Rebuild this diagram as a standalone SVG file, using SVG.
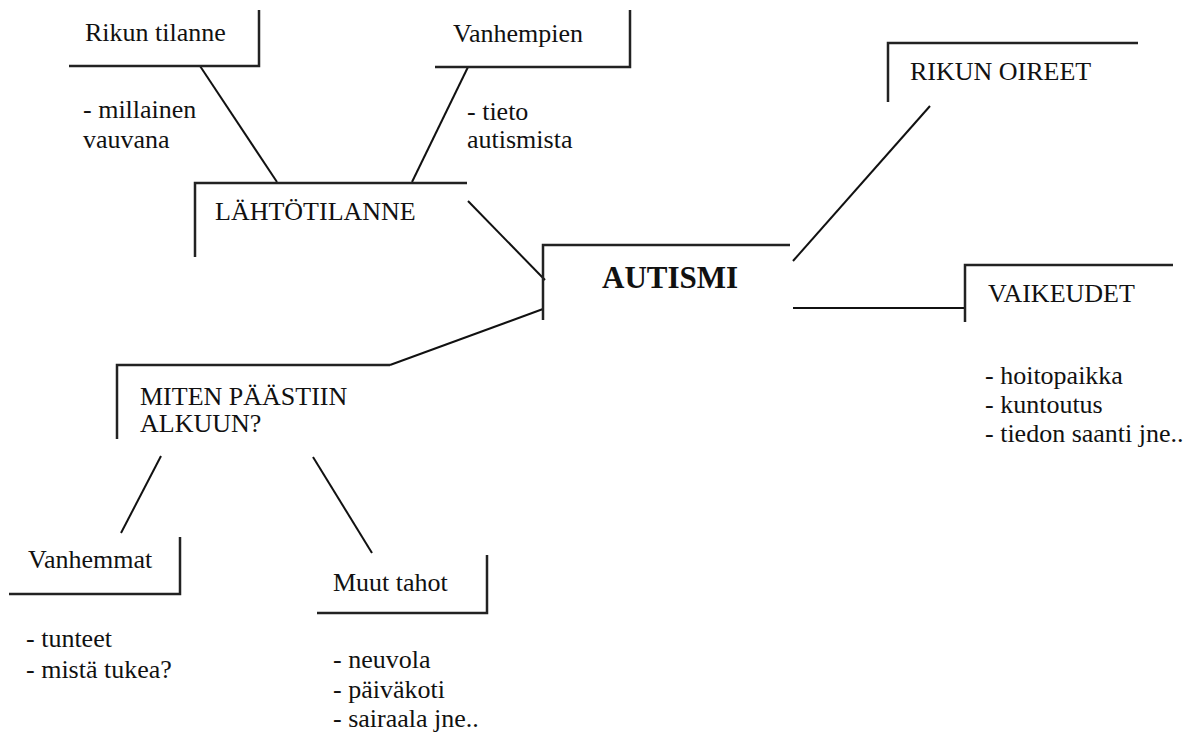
<svg xmlns="http://www.w3.org/2000/svg" width="1188" height="735" viewBox="0 0 1188 735">
  <style>
    text { font-family: "Liberation Serif", "DejaVu Serif", "Noto Serif", "Times New Roman", Times, serif; font-size: 26px; fill: #111; }
    .title { font-size: 31px; font-weight: bold; }
    .frame { fill: none; stroke: #222; stroke-width: 2.5; }
    .link { fill: none; stroke: #111; stroke-width: 2; }
  </style>
  <rect width="1188" height="735" fill="#fff"/>

  <!-- connectors -->
  <g id="connectors">
    <line class="link" x1="200" y1="66" x2="277" y2="182"/>
    <line class="link" x1="468" y1="67" x2="412" y2="182"/>
    <line class="link" x1="468" y1="201" x2="545" y2="280"/>
    <line class="link" x1="793" y1="261" x2="930" y2="106"/>
    <line class="link" x1="793" y1="308" x2="965" y2="308"/>
    <line class="link" x1="543" y1="309" x2="390" y2="365"/>
    <line class="link" x1="161" y1="456" x2="121" y2="533"/>
    <line class="link" x1="313" y1="457" x2="372" y2="553"/>
  </g>

  <g font-family="Liberation Serif, DejaVu Serif, serif">
    <!-- central topic -->
    <g id="autismi">
      <polyline class="frame" points="543,320 543,245 790,245"/>
      <text class="title" x="602" y="288">AUTISMI</text>
    </g>

    <g id="lahtotilanne">
      <polyline class="frame" points="195,257 195,183 467,183"/>
      <text x="215" y="220">LÄHTÖTILANNE</text>
    </g>

    <g id="rikun-tilanne">
      <polyline class="frame" points="69,66 259,66 259,10"/>
      <text x="85" y="41">Rikun tilanne</text>
      <text x="83" y="118">- millainen</text>
      <text x="83" y="148">vauvana</text>
    </g>

    <g id="vanhempien">
      <polyline class="frame" points="435,67 630,67 630,10"/>
      <text x="453" y="42">Vanhempien</text>
      <text x="467" y="120">- tieto</text>
      <text x="467" y="148">autismista</text>
    </g>

    <g id="rikun-oireet">
      <polyline class="frame" points="888,102 888,43 1138,43"/>
      <text x="910" y="80">RIKUN OIREET</text>
    </g>

    <g id="vaikeudet">
      <polyline class="frame" points="965,322 965,265 1173,265"/>
      <text x="988" y="302">VAIKEUDET</text>
      <text x="985" y="384">- hoitopaikka</text>
      <text x="985" y="413">- kuntoutus</text>
      <text x="985" y="442">- tiedon saanti jne..</text>
    </g>

    <g id="miten-paastiin">
      <polyline class="frame" points="117,439 117,365 390,365"/>
      <text x="140" y="405">MITEN PÄÄSTIIN</text>
      <text x="140" y="432">ALKUUN?</text>
    </g>

    <g id="vanhemmat">
      <polyline class="frame" points="9,594 180,594 180,537"/>
      <text x="28" y="568">Vanhemmat</text>
      <text x="26" y="647">- tunteet</text>
      <text x="26" y="678">- mistä tukea?</text>
    </g>

    <g id="muut-tahot">
      <polyline class="frame" points="317,613 487,613 487,555"/>
      <text x="333" y="591">Muut tahot</text>
      <text x="333" y="668">- neuvola</text>
      <text x="333" y="698">- päiväkoti</text>
      <text x="333" y="727">- sairaala jne..</text>
    </g>
  </g>
</svg>
